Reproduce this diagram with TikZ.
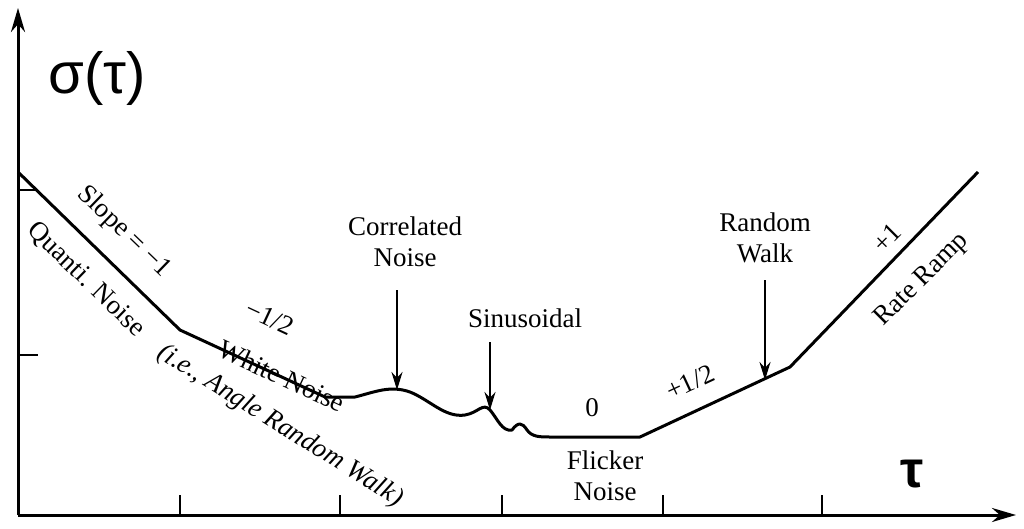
\documentclass[tikz,border=0pt]{standalone}
\usepackage{fontspec}
\setmainfont{Liberation Serif}
\newfontfamily\sansf{Liberation Sans}
\usetikzlibrary{arrows.meta}
\begin{document}
\begin{tikzpicture}[x=1pt,y=-1pt,line width=3pt,
  lab/.style={font=\fontsize{27}{31}\selectfont,align=center,inner sep=0pt},
  arr/.style={-{Stealth[length=18pt,width=11pt]},line width=2.4pt}]
\useasboundingbox (0,0) rectangle (1024,529);
% axes
\coordinate (o) at (18,515);
\coordinate (ytop) at (18,8);
\coordinate (xend) at (1016,515);
\draw[-{Stealth[length=24pt,width=14pt]}] (o) -- (ytop);
\draw[-{Stealth[length=24pt,width=14pt]}] (o) -- (xend);
\foreach \x in {180,340,502,663,822} \draw[line width=2pt] (\x,515) -- (\x,495);
\foreach \y in {190,355} \draw[line width=2pt] (18,\y) -- (38,\y);
% curve
\draw[line join=round] (18,172) -- (180,330) -- (325,397) -- (355,397)
  .. controls (375,392) and (390,385) .. (410,392)
  .. controls (430,400) and (445,418) .. (465,415)
  .. controls (478,413) and (483,402) .. (490,410)
  .. controls (497,418) and (502,432) .. (512,430)
  .. controls (518,422) and (522,422) .. (527,430)
  .. controls (532,437) and (540,437) .. (550,437)
  -- (640,437) -- (790,367) -- (978,172);
% labels
\node[font=\sansf\fontsize{58}{62}\selectfont] (sig) at (97,78) {σ(τ)};
\node[font=\sansf\bfseries\fontsize{52}{56}\selectfont] (tau) at (912,474) {τ};
\node[lab,rotate=-44] (s1) at (124,232) {Slope = −1};
\node[lab,rotate=-44] (qn) at (86,280) {Quanti. Noise};
\node[lab,rotate=-25] (h) at (270,318) {−1/2};
\node[lab,rotate=-25] (wn) at (282,376) {White Noise};
\node[lab,rotate=-32,font=\itshape\fontsize{27}{31}\selectfont] (arw) at (280,426) {(i.e., Angle Random Walk)};
\node[lab] (cn) at (405,242) {Correlated\\Noise};
\coordinate (cna) at (397,390);
\draw[arr] (397,290) -- (cna);
\node[lab] (sin) at (525,318) {Sinusoidal};
\coordinate (sina) at (490,410);
\draw[arr] (490,342) -- (sina);
\node[lab] (z) at (592,408) {0};
\node[lab] (fn) at (605,476) {Flicker\\Noise};
\node[lab,rotate=25] (hp) at (690,382) {+1/2};
\node[lab] (rw) at (765,238) {Random\\Walk};
\coordinate (rwa) at (765,380);
\draw[arr] (765,280) -- (rwa);
\node[lab,rotate=45] (p1) at (887,238) {+1};
\node[lab,rotate=45] (rr) at (922,280) {Rate Ramp};
\end{tikzpicture}
\end{document}
